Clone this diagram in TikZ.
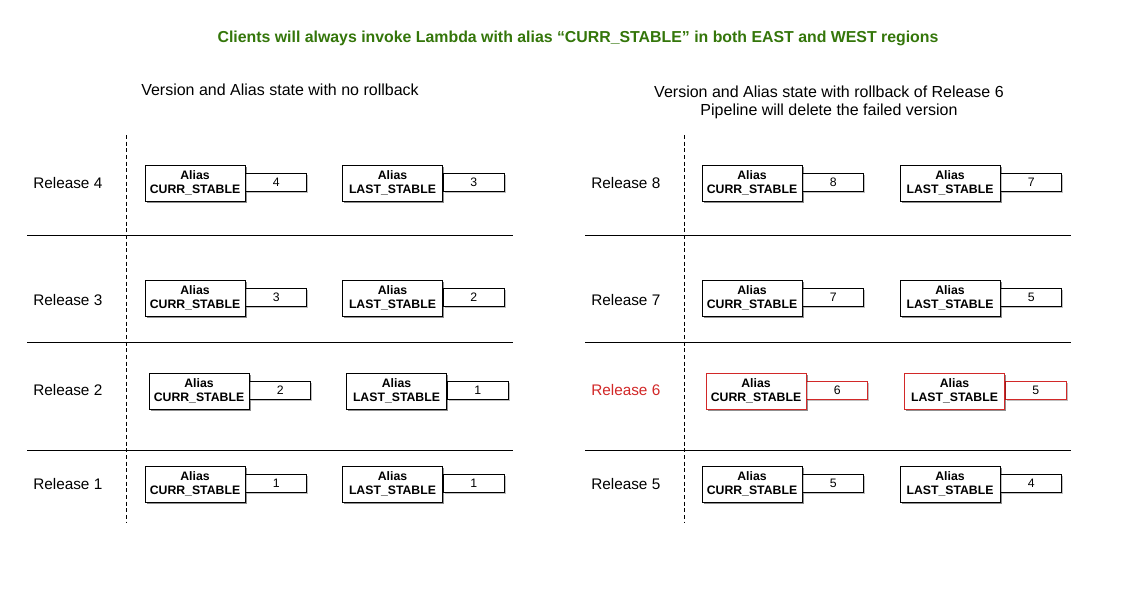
\documentclass[tikz,border=0pt]{standalone}
\usepackage{fontspec}
\setmainfont{Liberation Sans}
\usetikzlibrary{shadows}
\definecolor{ttlgreen}{RGB}{52,118,10}
\definecolor{relred}{RGB}{210,40,40}
\tikzset{
  aliasbox/.style={draw=black, fill=white, line width=0.7pt, minimum width=75pt, minimum height=27pt, inner sep=0pt,
    font=\fontsize{9.2}{10.2}\selectfont\bfseries, align=center,
    drop shadow={shadow xshift=1.2pt, shadow yshift=-1.2pt, opacity=0.25, fill=black}},
  valbox/.style={draw=black, fill=white, line width=0.6pt, minimum width=45.75pt, minimum height=13.5pt, inner sep=0pt,
    font=\fontsize{9.2}{10.2}\selectfont, anchor=west,
    drop shadow={shadow xshift=1.2pt, shadow yshift=-1.2pt, opacity=0.25, fill=black}},
  redbox/.style={draw=relred},
  rellabel/.style={anchor=west, font=\fontsize{11.5}{13}\selectfont, inner sep=0pt},
  sepline/.style={line width=0.6pt},
  vdash/.style={dashed, line width=0.6pt, dash pattern=on 3pt off 2pt},
  heading/.style={font=\fontsize{12}{13.6}\selectfont, align=center},
}
% \abox{name}{x center}{y center}{label}{value}{extra style}
\newcommand\abox[6]{%
  \node[aliasbox,#6] (#1a) at (#2,#3) {Alias\\#4};
  \node[valbox,#6] (#1v) at ([yshift=0.4pt]#1a.east) {#5};
  \node[aliasbox,#6,drop shadow={opacity=0}] at (#1a) {Alias\\#4};
}
\begin{document}
\begin{tikzpicture}[x=0.75pt,y=-0.75pt]
\useasboundingbox[fill=white] (0,0) rectangle (1143,594);
% title
\node[font=\fontsize{11.9}{13}\selectfont\bfseries, text=ttlgreen] (title) at (578,38) {Clients will always invoke Lambda with alias “CURR\_STABLE” in both EAST and WEST regions};
% headings
\node[heading] (hl) at (280,90) {Version and Alias state with no rollback};
\node[heading] (hr) at (829,102) {Version and Alias state with rollback of Release 6\\Pipeline will delete the failed version};
% left panel lines
\coordinate (ld1) at (126,135); \coordinate (ld2) at (126,522);
\draw[vdash] (ld1) -- (ld2);
\foreach \yy/\nm in {235/a,342/b,450/c}{
  \coordinate (ll\nm1) at (27,\yy); \coordinate (ll\nm2) at (513,\yy);
  \draw[sepline] (ll\nm1) -- (ll\nm2);
}
% right panel lines
\coordinate (rd1) at (684,135); \coordinate (rd2) at (684,522);
\draw[vdash] (rd1) -- (rd2);
\foreach \yy/\nm in {235/a,342/b,450/c}{
  \coordinate (rl\nm1) at (585,\yy); \coordinate (rl\nm2) at (1071,\yy);
  \draw[sepline] (rl\nm1) -- (rl\nm2);
}
% left labels
\node[rellabel] (lr4) at (33,183) {Release 4};
\node[rellabel] (lr3) at (33,300) {Release 3};
\node[rellabel] (lr2) at (33,390) {Release 2};
\node[rellabel] (lr1) at (33,484) {Release 1};
% right labels
\node[rellabel] (rr8) at (591,183) {Release 8};
\node[rellabel] (rr7) at (591,300) {Release 7};
\node[rellabel, text=relred] (rr6) at (591,390) {Release 6};
\node[rellabel] (rr5) at (591,484) {Release 5};
% left boxes
\abox{l4c}{195}{183}{CURR\_STABLE}{4}{}
\abox{l4l}{392.5}{183}{LAST\_STABLE}{3}{}
\abox{l3c}{195}{298}{CURR\_STABLE}{3}{}
\abox{l3l}{392.5}{298}{LAST\_STABLE}{2}{}
\abox{l2c}{199}{391}{CURR\_STABLE}{2}{}
\abox{l2l}{396.5}{391}{LAST\_STABLE}{1}{}
\abox{l1c}{195}{484}{CURR\_STABLE}{1}{}
\abox{l1l}{392.5}{484}{LAST\_STABLE}{1}{}
% right boxes
\abox{r8c}{752}{183}{CURR\_STABLE}{8}{}
\abox{r8l}{950}{183}{LAST\_STABLE}{7}{}
\abox{r7c}{752}{298}{CURR\_STABLE}{7}{}
\abox{r7l}{950}{298}{LAST\_STABLE}{5}{}
\abox{r6c}{756}{391}{CURR\_STABLE}{6}{redbox}
\abox{r6l}{954.5}{391}{LAST\_STABLE}{5}{redbox}
\abox{r5c}{752}{484}{CURR\_STABLE}{5}{}
\abox{r5l}{950}{484}{LAST\_STABLE}{4}{}
\end{tikzpicture}
\end{document}
